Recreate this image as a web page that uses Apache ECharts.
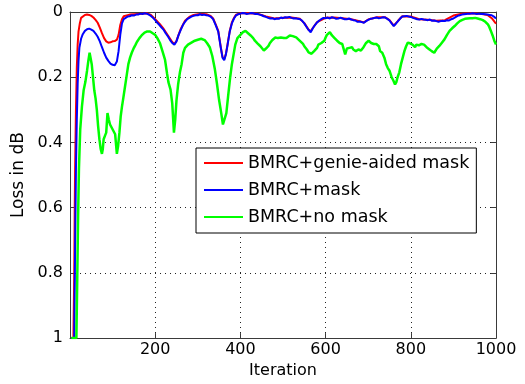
<!DOCTYPE html>
<html>
<head>
<meta charset="utf-8">
<script src="https://cdn.jsdelivr.net/npm/echarts@6/dist/echarts.min.js"></script>
<style>
html,body{margin:0;padding:0;background:#fff;}
#chart{width:525px;height:384px;}
</style>
</head>
<body>
<div id="chart"></div>
<script>
// ---- data ----
const seriesNames = ['BMRC+genie-aided mask', 'BMRC+mask', 'BMRC+no mask'];

const redIter = [3,8,10,11,12,14,16,18,20,23,26,30,35,40,45,50,55,60,65,70,75,80,85,90,95,100,105,110,114,118,122,126,130,140,150,160,170,180,190,200,210,220,230,240,245,250,260,270,280,290,300,310,320,330,336,342,348,354,358,362,366,370,375,380,385,390,400,420,440,460,480,500,520,540,550,560,565,570,580,600,620,640,660,680,690,700,720,740,750,760,770,780,800,820,840,860,880,900,920,940,960,980,990,995,1000];
const redLoss = [1,1,0.8,0.62,0.48,0.3,0.17,0.1,0.06,0.035,0.018,0.012,0.009,0.008,0.009,0.012,0.017,0.024,0.033,0.048,0.065,0.08,0.09,0.094,0.093,0.09,0.089,0.085,0.07,0.04,0.022,0.013,0.01,0.008,0.007,0.006,0.005,0.004,0.009,0.022,0.036,0.052,0.072,0.092,0.098,0.088,0.052,0.027,0.015,0.009,0.007,0.006,0.007,0.012,0.02,0.038,0.058,0.108,0.138,0.145,0.128,0.098,0.058,0.032,0.018,0.008,0.004,0.004,0.005,0.014,0.02,0.018,0.017,0.021,0.034,0.054,0.059,0.049,0.031,0.018,0.017,0.019,0.022,0.028,0.032,0.023,0.016,0.016,0.025,0.042,0.027,0.013,0.014,0.022,0.024,0.027,0.025,0.011,0.005,0.004,0.005,0.009,0.019,0.027,0.036];

const blueIter = [3,10,12,14,16,18,20,22,26,30,35,40,45,50,55,60,65,70,75,80,85,90,95,100,105,110,114,118,122,126,130,135,140,145,150,155,160,165,170,175,180,185,190,195,200,205,210,215,220,225,230,235,240,245,250,255,260,265,270,275,280,285,290,295,300,305,310,315,320,325,330,336,342,348,354,358,362,366,370,375,380,385,390,395,400,405,410,415,420,425,430,435,440,445,450,455,460,465,470,475,480,485,490,495,500,505,510,515,520,525,530,535,540,545,550,555,560,565,570,575,580,585,590,595,600,605,610,615,620,625,630,635,640,645,650,655,660,665,670,675,680,685,690,695,700,705,710,715,720,725,730,735,740,745,750,755,760,765,770,775,780,785,790,795,800,805,810,815,820,825,830,835,840,845,850,855,860,865,870,875,880,885,890,895,900,905,910,915,920,925,930,935,940,945,950,955,960,965,970,975,980,985,990,995,1000];
const blueLoss = [1,1,0.72,0.48,0.33,0.22,0.15,0.11,0.082,0.068,0.058,0.053,0.051,0.054,0.058,0.066,0.076,0.09,0.108,0.125,0.14,0.15,0.158,0.162,0.163,0.152,0.12,0.07,0.035,0.022,0.018,0.014,0.013,0.01,0.011,0.008,0.008,0.005,0.006,0.004,0.005,0.008,0.012,0.018,0.025,0.033,0.04,0.048,0.055,0.066,0.075,0.086,0.095,0.1,0.09,0.07,0.055,0.04,0.03,0.022,0.018,0.014,0.012,0.01,0.01,0.007,0.009,0.008,0.01,0.011,0.014,0.022,0.04,0.06,0.11,0.14,0.148,0.13,0.1,0.06,0.035,0.02,0.01,0.007,0.005,0.003,0.004,0.006,0.005,0.003,0.004,0.006,0.006,0.008,0.01,0.013,0.015,0.018,0.02,0.019,0.022,0.02,0.021,0.017,0.019,0.016,0.017,0.015,0.018,0.02,0.019,0.021,0.022,0.027,0.035,0.045,0.055,0.062,0.05,0.04,0.032,0.026,0.022,0.018,0.019,0.017,0.02,0.016,0.018,0.021,0.02,0.017,0.02,0.022,0.022,0.02,0.023,0.025,0.026,0.03,0.029,0.031,0.033,0.028,0.024,0.021,0.02,0.018,0.017,0.019,0.018,0.016,0.017,0.021,0.026,0.035,0.043,0.036,0.028,0.02,0.014,0.013,0.012,0.014,0.015,0.018,0.02,0.022,0.023,0.021,0.023,0.024,0.025,0.023,0.027,0.026,0.028,0.03,0.028,0.027,0.028,0.025,0.026,0.022,0.02,0.016,0.012,0.01,0.008,0.007,0.006,0.005,0.005,0.004,0.005,0.006,0.005,0.006,0.006,0.007,0.008,0.009,0.01,0.014,0.02,0.028,0.036];

const greenIter = [3,15,17,19,21,24,28,32,36,40,43,46,48,51,54,57,60,63,66,69,72,75,77,79,82,85,88,91,94,98,102,106,110,113,116,119,122,125,129,133,137,141,145,150,154,157,160,163,168,172,175,180,184,188,195,200,205,211,217,223,228,231,236,240,244,247,250,254,258,262,266,270,274,277,281,285,289,293,296,300,304,308,312,316,322,328,334,340,345,350,355,359,363,367,371,376,380,384,388,393,397,400,403,406,409,412,415,418,421,424,427,430,434,437,440,443,447,450,455,460,463,466,469,472,475,478,482,485,488,492,495,498,502,505,508,512,516,520,523,527,531,535,539,543,547,550,553,556,560,564,567,570,573,576,580,583,587,590,594,597,600,603,607,610,612,615,618,621,624,627,630,633,636,639,642,646,650,653,656,659,662,665,668,671,674,677,680,683,686,689,692,695,698,701,704,707,710,713,716,719,722,725,728,733,738,742,746,750,755,759,763,766,769,773,777,781,785,789,793,798,801,804,807,810,813,816,819,822,825,828,831,834,837,840,843,846,849,852,855,858,861,864,867,870,873,876,879,882,885,888,891,894,897,900,903,906,909,912,915,918,921,924,927,930,933,936,939,942,945,948,951,954,957,960,963,966,969,972,975,978,981,984,988,992,996,1000];
const greenLoss = [1,1,0.82,0.63,0.48,0.36,0.29,0.24,0.215,0.18,0.15,0.125,0.13,0.16,0.2,0.24,0.265,0.3,0.35,0.39,0.42,0.435,0.42,0.39,0.38,0.37,0.31,0.33,0.345,0.35,0.365,0.375,0.435,0.41,0.37,0.32,0.29,0.265,0.23,0.195,0.16,0.14,0.125,0.11,0.1,0.092,0.086,0.08,0.072,0.07,0.063,0.06,0.057,0.06,0.066,0.07,0.08,0.095,0.12,0.146,0.19,0.215,0.238,0.28,0.37,0.33,0.27,0.22,0.185,0.16,0.125,0.11,0.105,0.1,0.096,0.094,0.09,0.088,0.084,0.085,0.08,0.082,0.085,0.086,0.096,0.108,0.135,0.175,0.22,0.27,0.31,0.345,0.35,0.31,0.26,0.2,0.16,0.13,0.1,0.08,0.075,0.07,0.064,0.062,0.058,0.058,0.064,0.065,0.07,0.072,0.076,0.08,0.088,0.09,0.096,0.098,0.105,0.11,0.118,0.112,0.108,0.104,0.096,0.09,0.086,0.08,0.078,0.076,0.08,0.082,0.078,0.084,0.08,0.076,0.08,0.078,0.072,0.076,0.074,0.072,0.078,0.082,0.088,0.09,0.098,0.105,0.11,0.115,0.124,0.13,0.128,0.125,0.12,0.118,0.11,0.1,0.1,0.095,0.092,0.088,0.078,0.07,0.064,0.062,0.068,0.072,0.078,0.08,0.084,0.088,0.09,0.095,0.1,0.098,0.104,0.13,0.112,0.108,0.11,0.116,0.108,0.115,0.112,0.12,0.114,0.115,0.12,0.118,0.112,0.108,0.104,0.095,0.09,0.088,0.09,0.095,0.092,0.098,0.1,0.098,0.1,0.105,0.12,0.125,0.14,0.16,0.172,0.18,0.2,0.21,0.222,0.215,0.2,0.185,0.16,0.14,0.12,0.105,0.094,0.096,0.098,0.1,0.104,0.108,0.1,0.104,0.102,0.104,0.098,0.1,0.1,0.104,0.108,0.11,0.114,0.118,0.12,0.122,0.125,0.12,0.112,0.108,0.104,0.1,0.094,0.09,0.084,0.078,0.07,0.065,0.058,0.054,0.05,0.046,0.043,0.038,0.035,0.03,0.028,0.026,0.024,0.022,0.021,0.02,0.02,0.02,0.019,0.018,0.019,0.019,0.018,0.019,0.02,0.021,0.022,0.023,0.025,0.027,0.03,0.033,0.038,0.045,0.058,0.072,0.088,0.1];

const xMin = 0, xMax = 1000, xStep = 200;
const yMin = 0, yMax = 1, yStep = 0.2;
const axisTitleX = 'Iteration';
const axisTitleY = 'Loss in dB';

function zip(xs, ys) { return xs.map((x, i) => [x, ys[i]]); }

const FONT = 'DejaVu Sans';
const frameColor = '#3a3a3a';
const gridDash = { color: '#222', width: 1, type: [1, 4] };

const chart = echarts.init(document.getElementById('chart'), null, { renderer: 'canvas' });

const option = {
  backgroundColor: '#fff',
  animation: false,
  grid: { left: 70, top: 12, width: 426, height: 327, containLabel: false },
  legend: {
    left: 196, top: 148,
    orient: 'vertical',
    data: seriesNames,
    icon: 'rect',
    backgroundColor: '#fff',
    borderColor: '#000', borderWidth: 1,
    padding: [6, 7, 7, 8],
    itemWidth: 39, itemHeight: 2, itemGap: 9,
    textStyle: { fontFamily: FONT, fontSize: 17.5, color: '#000' },
    selectedMode: false
  },
  xAxis: [
    {
      type: 'value', min: xMin, max: xMax, interval: xStep, position: 'bottom',
      name: axisTitleX, nameLocation: 'middle', nameGap: 14,
      nameTextStyle: { fontFamily: FONT, fontSize: 16, color: '#000' },
      axisLine: { show: true, onZero: false, lineStyle: { color: frameColor, width: 1 } },
      axisTick: { show: true, inside: true, length: 5, lineStyle: { color: frameColor } },
      axisLabel: { showMinLabel: false, margin: 4, fontFamily: FONT, fontSize: 16, color: '#000',
        formatter: v => String(v) },
      splitLine: { show: true, lineStyle: gridDash }
    },
    {
      type: 'value', min: xMin, max: xMax, interval: xStep, position: 'top',
      axisLine: { show: true, onZero: false, lineStyle: { color: frameColor, width: 1 } },
      axisTick: { show: true, inside: true, length: 5, lineStyle: { color: frameColor } },
      axisLabel: { show: false }, splitLine: { show: false }
    }
  ],
  yAxis: [
    {
      type: 'value', min: yMin, max: yMax, interval: yStep, inverse: true, position: 'left',
      name: axisTitleY, nameLocation: 'middle', nameGap: 32,
      nameTextStyle: { fontFamily: FONT, fontSize: 17, color: '#000' },
      axisLine: { show: true, onZero: false, lineStyle: { color: frameColor, width: 1 } },
      axisTick: { show: true, inside: true, length: 5, lineStyle: { color: frameColor } },
      axisLabel: { margin: 7, fontFamily: FONT, fontSize: 16, color: '#000' },
      splitLine: { show: true, lineStyle: gridDash }
    },
    {
      type: 'value', min: yMin, max: yMax, interval: yStep, inverse: true, position: 'right',
      axisLine: { show: true, onZero: false, lineStyle: { color: frameColor, width: 1 } },
      axisTick: { show: true, inside: true, length: 5, lineStyle: { color: frameColor } },
      axisLabel: { show: false }, splitLine: { show: false }
    }
  ],
  series: [
    { name: seriesNames[0], type: 'line', data: zip(redIter, redLoss), symbol: 'none', clip: true,
      lineStyle: { color: '#ff0000', width: 2 }, itemStyle: { color: '#ff0000' } },
    { name: seriesNames[1], type: 'line', data: zip(blueIter, blueLoss), symbol: 'none', clip: true,
      lineStyle: { color: '#0000ff', width: 2 }, itemStyle: { color: '#0000ff' } },
    { name: seriesNames[2], type: 'line', data: zip(greenIter, greenLoss), symbol: 'none', clip: true,
      lineStyle: { color: '#00ff00', width: 2.5 }, itemStyle: { color: '#00ff00' } }
  ]
};
chart.setOption(option);
</script>
</body>
</html>
